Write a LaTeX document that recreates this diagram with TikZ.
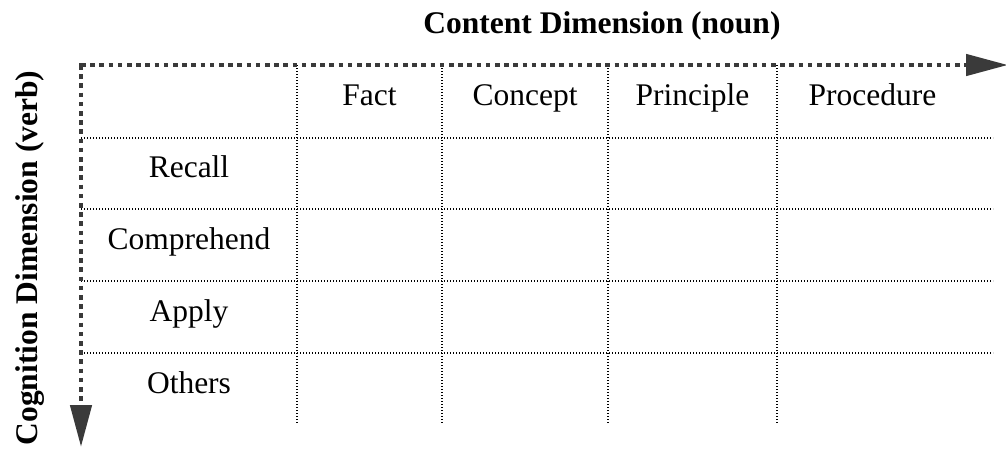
\documentclass[tikz,border=0pt]{standalone}
\usepackage{fontspec}
\setmainfont{Liberation Serif}
\usetikzlibrary{arrows.meta,calc}
\definecolor{axisgray}{HTML}{3A3A3A}
\begin{document}
\begin{tikzpicture}[x=1pt,y=-1pt,
  axisline/.style={draw=axisgray,line width=4.6pt,dash pattern=on 4.6pt off 4.6pt,
    -{Triangle[length=42pt,width=21pt,fill=axisgray]}},
  gridline/.style={draw=black,line width=1.3pt,dash pattern=on 1.3pt off 1.7pt},
  lbl/.style={anchor=base,inner sep=0pt,font=\fontsize{31.5}{36}\selectfont},
  ttl/.style={anchor=base,inner sep=0pt,font=\fontsize{31.5}{36}\selectfont\bfseries}]
\useasboundingbox (0,0) rectangle (1006,448);
% corner and axis ends
\coordinate (o) at (81,65);
\coordinate (xend) at (1008,65);
\coordinate (yend) at (81,447);
% grid line end points
\foreach \n/\x in {a/297,b/442,c/608,d/777}{
  \coordinate (v\n t) at (\x,65);
  \coordinate (v\n b) at (\x,423);
}
\foreach \n/\y in {a/138,b/209,c/281,d/353}{
  \coordinate (h\n l) at (81,\y);
  \coordinate (h\n r) at (993,\y);
}
\foreach \n in {a,b,c,d}{
  \draw[gridline] (v\n t) -- (v\n b);
  \draw[gridline] (h\n l) -- (h\n r);
}
% axes
\draw[axisline] (o) -- (xend);
\draw[axisline] (o) -- (yend);
\fill[axisgray] ($(o)+(-2.3,-2.3)$) rectangle ++(4.6,4.6);
% titles
\node[ttl] (ctitle) at (602,33) {Content Dimension (noun)};
\node[ttl,rotate=90] (vtitle) at (37,258) {Cognition Dimension (verb)};
% column headers
\node[lbl] (fact) at (369.5,105) {Fact};
\node[lbl] (concept) at (525,105) {Concept};
\node[lbl] (principle) at (692.5,105) {Principle};
\node[lbl] (procedure) at (872.5,105) {Procedure};
% row labels
\node[lbl] (recall) at (189,177) {Recall};
\node[lbl] (comprehend) at (189,249) {Comprehend};
\node[lbl] (apply) at (189,321) {Apply};
\node[lbl] (others) at (189,393) {Others};
\end{tikzpicture}
\end{document}
